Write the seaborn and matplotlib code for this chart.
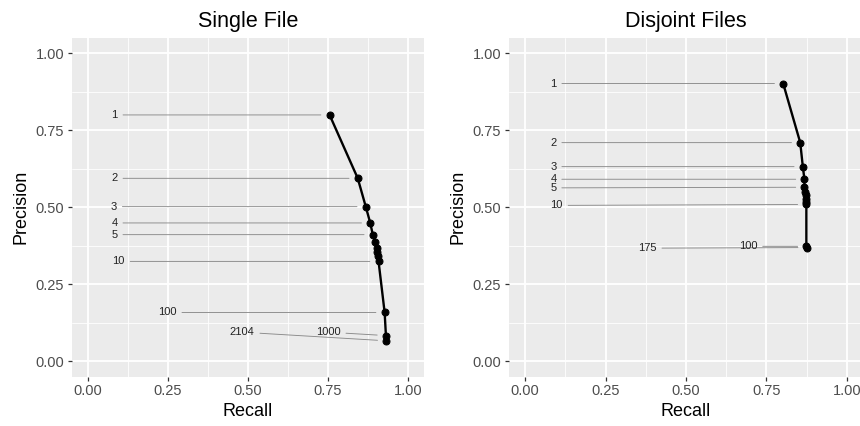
import matplotlib
matplotlib.use("Agg")
import matplotlib.pyplot as plt
import seaborn as sns
import pandas as pd
from matplotlib.ticker import MultipleLocator

# ------------------------------------------------------------------
# data
# ------------------------------------------------------------------
single_k = [1, 2, 3, 4, 5, 6, 7, 8, 9, 10, 100, 1000, 2104]
single_recall = [0.755, 0.843, 0.868, 0.882, 0.890, 0.898, 0.902, 0.904, 0.906, 0.908, 0.927, 0.931, 0.932]
single_precision = [0.800, 0.594, 0.502, 0.449, 0.411, 0.387, 0.369, 0.355, 0.341, 0.324, 0.158, 0.083, 0.066]

single_labels = ["1", "2", "3", "4", "5", "10", "100", "1000", "2104"]
single_label_x = [0.083, 0.083, 0.081, 0.083, 0.083, 0.096, 0.248, 0.751, 0.482]
single_label_y = [0.800, 0.594, 0.502, 0.449, 0.411, 0.324, 0.158, 0.094, 0.094]

disjoint_k = [1, 2, 3, 4, 5, 6, 7, 8, 9, 10, 100, 175]
disjoint_recall = [0.802, 0.855, 0.863, 0.868, 0.868, 0.870, 0.872, 0.873, 0.874, 0.874, 0.874, 0.875]
disjoint_precision = [0.902, 0.710, 0.632, 0.591, 0.565, 0.550, 0.539, 0.528, 0.517, 0.509, 0.373, 0.369]

disjoint_labels = ["1", "2", "3", "4", "5", "10", "175", "100"]
disjoint_label_x = [0.088, 0.088, 0.088, 0.088, 0.088, 0.098, 0.380, 0.693]
disjoint_label_y = [0.902, 0.710, 0.632, 0.591, 0.563, 0.506, 0.367, 0.373]

ticks = [0.00, 0.25, 0.50, 0.75, 1.00]
tick_labels = ["0.00", "0.25", "0.50", "0.75", "1.00"]

# ------------------------------------------------------------------
# ggplot-like theme
# ------------------------------------------------------------------
sns.set_theme(style="darkgrid", rc={
    "axes.facecolor": "#EBEBEB",
    "grid.color": "white",
    "xtick.bottom": True,
    "ytick.left": True,
    "xtick.color": "#333333",
    "ytick.color": "#333333",
    "xtick.major.size": 3.2,
    "ytick.major.size": 3.2,
    "xtick.major.width": 0.9,
    "ytick.major.width": 0.9,
    "axes.edgecolor": "#EBEBEB",
})
plt.rcParams["font.family"] = ["Liberation Sans", "DejaVu Sans"]

fig = plt.figure(figsize=(8.6, 4.26), dpi=100)
W, H = 860, 426
bottom = (H - 376.5) / H
height = 338.5 / H
ax1 = fig.add_axes([72 / W, bottom, 352 / W, height])
ax2 = fig.add_axes([509 / W, bottom, 354 / W, height])


def draw_panel(ax, title, k, rec, prec, labels, lx, ly):
    df = pd.DataFrame({"k": k, "recall": rec, "precision": prec})
    sns.lineplot(data=df, x="recall", y="precision", sort=False, estimator=None,
                 color="black", lw=1.7, marker="o", markersize=5,
                 markeredgecolor="black", ax=ax)
    lookup = dict(zip([str(v) for v in k], zip(rec, prec)))
    for lab, x, y in zip(labels, lx, ly):
        ax.annotate(lab, xy=lookup[lab], xytext=(x, y), textcoords="data",
                    ha="center", va="center", fontsize=8, color="#222222",
                    arrowprops=dict(arrowstyle="-", color="#8a8a8a", lw=0.65,
                                    shrinkA=1.5, shrinkB=6.3))
    ax.set_xlim(-0.05, 1.05)
    ax.set_ylim(-0.05, 1.05)
    ax.set_xticks(ticks)
    ax.set_xticklabels(tick_labels)
    ax.set_yticks(ticks)
    ax.set_yticklabels(tick_labels)
    ax.xaxis.set_minor_locator(MultipleLocator(0.125))
    ax.yaxis.set_minor_locator(MultipleLocator(0.125))
    ax.grid(which="major", color="white", lw=1.3)
    ax.grid(which="minor", color="white", lw=0.6)
    ax.tick_params(which="minor", length=0)
    ax.tick_params(which="major", labelsize=10.5, labelcolor="#4d4d4d", pad=2.5)
    for s in ax.spines.values():
        s.set_visible(False)
    ax.set_title(title, fontsize=15.5, pad=8, color="black")
    ax.set_xlabel("Recall", fontsize=13, labelpad=3, color="black")
    ax.set_ylabel("Precision", fontsize=13, labelpad=4, color="black")


draw_panel(ax1, "Single File", single_k, single_recall, single_precision,
           single_labels, single_label_x, single_label_y)
draw_panel(ax2, "Disjoint Files", disjoint_k, disjoint_recall, disjoint_precision,
           disjoint_labels, disjoint_label_x, disjoint_label_y)

fig.savefig("out.png", dpi=100)
